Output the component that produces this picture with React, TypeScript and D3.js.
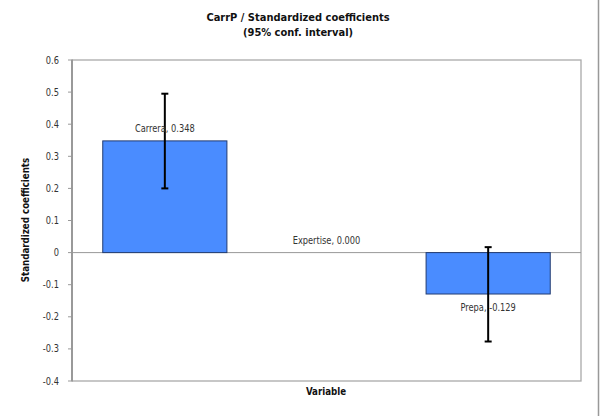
import React from "react";
import * as d3 from "d3";

// Standardized coefficients with 95% confidence bounds
const variables = ["Carrera", "Expertise", "Prepa"];
const coefficients = [0.348, 0.0, -0.129];
const lowerBounds = [0.2, 0.0, -0.277];
const upperBounds = [0.495, 0.0, 0.017];
const yTicks = [0.6, 0.5, 0.4, 0.3, 0.2, 0.1, 0, -0.1, -0.2, -0.3, -0.4];

const width = 600;
const height = 416;
const plot = { left: 72, right: 581, top: 60, bottom: 381 };

const FONT = "'DejaVu Sans Condensed', 'DejaVu Sans', sans-serif";

const Label = ({ x, y, anchor = "middle", size = 10, bold = false, rotate = 0, squeeze = 0.92, fill = "#222", children }: any) => (
  <text
    transform={`translate(${x},${y}) rotate(${rotate}) scale(${squeeze},1)`}
    textAnchor={anchor}
    fontFamily={FONT}
    fontSize={size}
    fontWeight={bold ? "bold" : "normal"}
    fill={fill}
  >
    {children}
  </text>
);

export default function App() {
  const y = d3.scaleLinear().domain([-0.4, 0.6]).range([plot.bottom, plot.top]);
  const x = d3
    .scaleBand<string>()
    .domain(variables)
    .range([84, 569])
    .paddingInner(0.232)
    .paddingOuter(0.116);

  const capHalf = 3.5;

  return (
    <svg width={width} height={height} style={{ position: "absolute", left: 0, top: 0, background: "#fff" }}>
      <rect x={0} y={0} width={width} height={height} fill="#fff" />
      {/* outer chart edge */}
      <line x1={598.5} x2={598.5} y1={0} y2={height} stroke="#999" strokeWidth={1.5} />

      {/* plot frame */}
      <rect
        x={plot.left}
        y={plot.top}
        width={plot.right - plot.left}
        height={plot.bottom - plot.top}
        fill="#fff"
        stroke="#aaa"
        strokeWidth={1.3}
      />
      <line x1={plot.left} x2={plot.left} y1={plot.top} y2={plot.bottom} stroke="#999" strokeWidth={2} />

      {/* y ticks */}
      {yTicks.map((t) => (
        <g key={t}>
          <line x1={plot.left - 4} x2={plot.left + 1} y1={y(t)} y2={y(t)} stroke="#999" strokeWidth={1} />
          <Label x={plot.left - 13} y={y(t) + 3.5} anchor="end" size={10} fill="#333">
            {String(+t.toFixed(1))}
          </Label>
        </g>
      ))}

      {/* zero line */}
      <line x1={plot.left} x2={plot.right} y1={y(0)} y2={y(0)} stroke="#999" strokeWidth={1} />

      {/* bars */}
      {variables.map((v, i) => {
        const c = coefficients[i];
        if (c === 0) return null;
        return (
          <rect
            key={v}
            x={x(v)}
            y={Math.min(y(c), y(0))}
            width={x.bandwidth()}
            height={Math.abs(y(c) - y(0))}
            fill="#4a8cff"
            stroke="#233c72"
            strokeWidth={1}
          />
        );
      })}

      {/* confidence intervals */}
      {variables.map((v, i) => {
        if (upperBounds[i] === lowerBounds[i]) return null;
        const cx = (x(v) as number) + x.bandwidth() / 2;
        return (
          <g key={v} stroke="#000" strokeWidth={2}>
            <line x1={cx} x2={cx} y1={y(upperBounds[i])} y2={y(lowerBounds[i])} />
            <line x1={cx - capHalf} x2={cx + capHalf} y1={y(upperBounds[i])} y2={y(upperBounds[i])} />
            <line x1={cx - capHalf} x2={cx + capHalf} y1={y(lowerBounds[i])} y2={y(lowerBounds[i])} />
          </g>
        );
      })}

      {/* value labels */}
      {variables.map((v, i) => {
        const c = coefficients[i];
        const cx = (x(v) as number) + x.bandwidth() / 2;
        const ly = c > 0 ? y(c) - 9 : c < 0 ? y(c) + 17 : y(0) - 9;
        return (
          <Label key={v} x={cx} y={ly} size={10} fill="#333">
            {`${v}, ${c.toFixed(3)}`}
          </Label>
        );
      })}

      {/* titles */}
      <Label x={298} y={21} size={11} bold squeeze={1} fill="#111">
        CarrP / Standardized coefficients
      </Label>
      <Label x={298} y={35.5} size={11} bold squeeze={1} fill="#111">
        (95% conf. interval)
      </Label>
      <Label x={326} y={395} size={10.5} bold fill="#111">
        Variable
      </Label>
      <Label x={29} y={220} size={10.5} bold rotate={-90} fill="#111">
        Standardized coefficients
      </Label>
    </svg>
  );
}
